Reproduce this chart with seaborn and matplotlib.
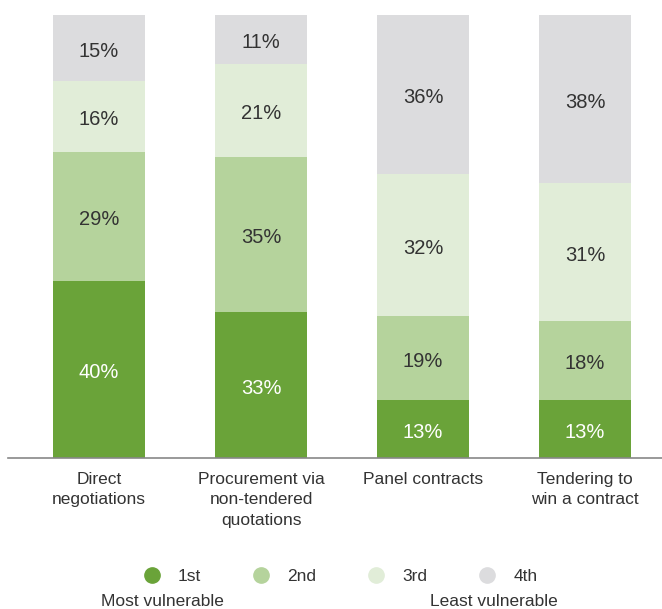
import matplotlib
matplotlib.use("Agg")
import matplotlib.pyplot as plt
from matplotlib.lines import Line2D
import seaborn as sns
import pandas as pd

categories = ["Direct\nnegotiations", "Procurement via\nnon-tendered\nquotations",
              "Panel contracts", "Tendering to\nwin a contract"]
ranks = ["1st", "2nd", "3rd", "4th"]
first = [40, 33, 13, 13]
second = [29, 35, 19, 18]
third = [16, 21, 32, 31]
fourth = [15, 11, 36, 38]
series = [first, second, third, fourth]
colors = ["#6aa339", "#b5d39c", "#e1edd8", "#dcdcde"]
label_colors = ["white", "#333333", "#333333", "#333333"]

sns.set_theme(style="white")
plt.rcParams["font.family"] = ["Liberation Sans", "DejaVu Sans"]

fig = plt.figure(figsize=(6.62, 6.09), dpi=100)
ax = fig.add_axes([8 / 662, 1 - 458 / 609, 654 / 662, 443 / 609])

bottom = [0, 0, 0, 0]
for rank, vals, col, tcol in zip(ranks, series, colors, label_colors):
    df = pd.DataFrame({"category": categories, "value": vals})
    n_before = len(ax.patches)
    sns.barplot(data=df, x="category", y="value", color=col, bottom=bottom,
                width=0.57, ax=ax, saturation=1, linewidth=0, errorbar=None)
    for patch, v, b in zip(ax.patches[n_before:], vals, bottom):
        cx = patch.get_x() + patch.get_width() / 2
        ax.text(cx, b + v / 2 - 0.7, f"{v}%", ha="center", va="center",
                fontsize=14.5, color=tcol)
    bottom = [b + v for b, v in zip(bottom, vals)]

ax.set_xlim(-0.562, 3.475)
ax.set_ylim(0, 100)
ax.set_xlabel("")
ax.set_ylabel("")
ax.set_yticks([])
for side in ["top", "right", "left"]:
    ax.spines[side].set_visible(False)
ax.spines["bottom"].set_color("#888888")
ax.spines["bottom"].set_linewidth(1.2)
ax.tick_params(axis="x", length=0, pad=10, labelsize=12.5, labelcolor="#333333")
for lbl in ax.get_xticklabels():
    lbl.set_verticalalignment("top")
    lbl.set_linespacing(1.45)

handles = [Line2D([], [], marker="o", linestyle="", markersize=11,
                  markerfacecolor=c, markeredgecolor=c) for c in colors]
fig.legend(handles, ranks, loc="center", bbox_to_anchor=(336 / 662, 1 - 576 / 609),
           ncol=4, frameon=False, fontsize=12.5, handletextpad=0.5,
           columnspacing=2.45, labelcolor="#333333")
fig.text(101 / 662, 1 - 602 / 609, "Most vulnerable", ha="left", va="center",
         fontsize=12.5, color="#333333")
fig.text(558 / 662, 1 - 602 / 609, "Least vulnerable", ha="right", va="center",
         fontsize=12.5, color="#333333")

fig.savefig("out.png", dpi=100)
